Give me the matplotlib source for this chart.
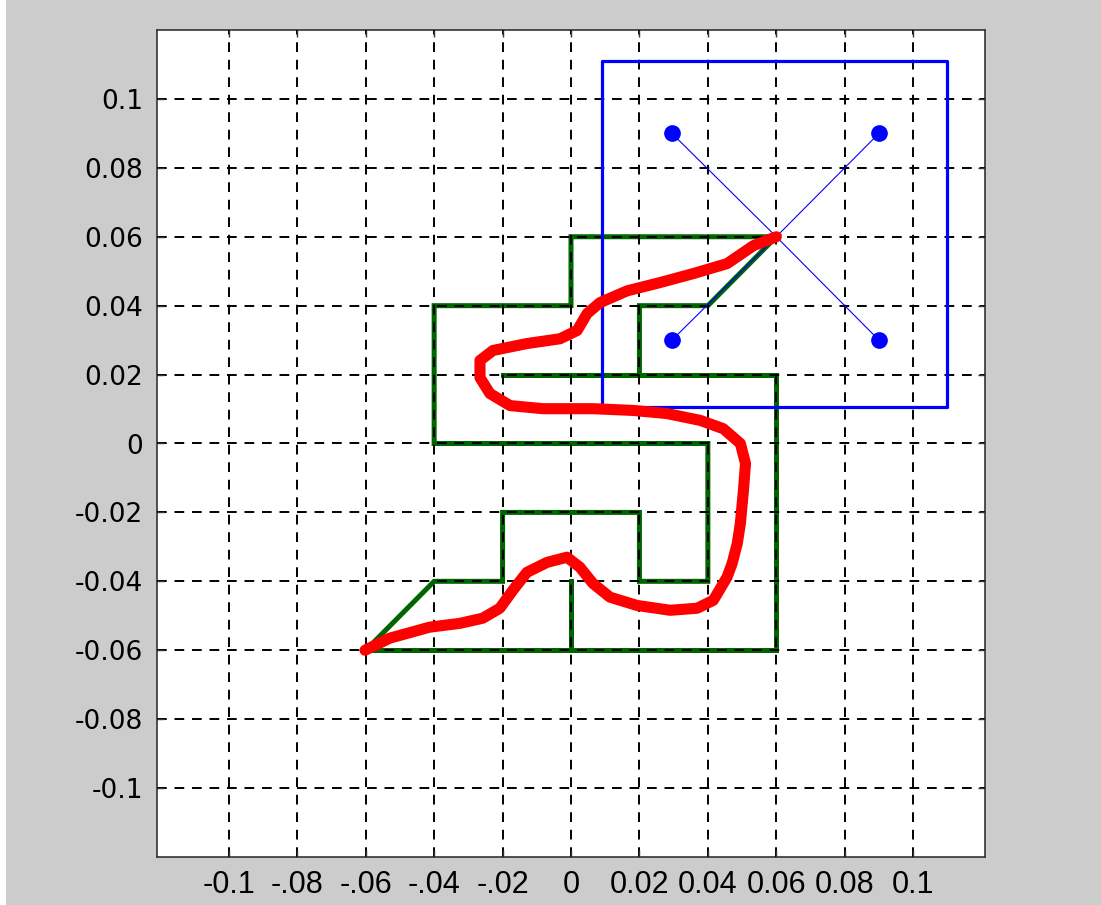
import matplotlib
matplotlib.use("Agg")
import matplotlib.pyplot as plt
from matplotlib.patches import Rectangle

# maze walls (green)
wall1_x = [-0.06, -0.04, -0.02, -0.02, 0.02, 0.02, 0.04, 0.04, -0.04, -0.04, 0.0, 0.0, 0.06, 0.04, 0.02, 0.02]
wall1_y = [-0.06, -0.04, -0.04, -0.02, -0.02, -0.04, -0.04, 0.0, 0.0, 0.04, 0.04, 0.06, 0.06, 0.04, 0.04, 0.02]
wall2_x = [-0.02, 0.06, 0.06, -0.06]
wall2_y = [0.02, 0.02, -0.06, -0.06]
wall3_x = [0.0, 0.0]
wall3_y = [-0.04, -0.06]

# robot frame (blue)
box_x = [0.009, 0.110, 0.110, 0.009, 0.009]
box_y = [0.0105, 0.0105, 0.111, 0.111, 0.0105]
center = (0.06, 0.06)
legs_x = [0.0295, 0.09, 0.0295, 0.09]
legs_y = [0.09, 0.09, 0.03, 0.03]

# path (red)
path_x = [-0.0602, -0.053, -0.0413, -0.0325, -0.0258, -0.0208, -0.017, -0.0129, -0.007,
          -0.0012, 0.0026, 0.0064, 0.0114, 0.0193, 0.029, 0.0369, 0.0416, 0.0456, 0.0471,
          0.0486, 0.0495, 0.0504, 0.051, 0.0495, 0.0445, 0.0378, 0.028, 0.0181, 0.0064,
          -0.0082, -0.0178, -0.0237, -0.0266, -0.0266, -0.0228, -0.0129, -0.0032, 0.0018,
          0.0047, 0.0085, 0.0164, 0.026, 0.0357, 0.0456, 0.0533, 0.0600]
path_y = [-0.0600, -0.0565, -0.0533, -0.0522, -0.0507, -0.0478, -0.0426, -0.0374, -0.0345,
          -0.033, -0.0359, -0.0406, -0.0446, -0.047, -0.0484, -0.0478, -0.0455, -0.0388, -0.0348,
          -0.029, -0.0232, -0.0136, -0.0058, 0.0, 0.0043, 0.0067, 0.0087, 0.0096, 0.0101,
          0.0101, 0.011, 0.0145, 0.0191, 0.0241, 0.027, 0.029, 0.0304, 0.0328,
          0.0377, 0.0409, 0.0443, 0.0467, 0.0493, 0.0522, 0.0574, 0.0600]

ticks = [-0.1, -0.08, -0.06, -0.04, -0.02, 0, 0.02, 0.04, 0.06, 0.08, 0.1]
xtick_labels = ['-0.1', '-.08', '-.06', '-.04', '-.02', '0', '0.02', '0.04', '0.06', '0.08', '0.1']
ytick_labels = ['-0.1', '-0.08', '-0.06', '-0.04', '-0.02', '0', '0.02', '0.04', '0.06', '0.08', '0.1']

fig = plt.figure(figsize=(11.01, 9.05), dpi=100, facecolor='#cccccc')
fig.patches.append(Rectangle((0, 0), 6 / 1101, 1, transform=fig.transFigure,
                             facecolor='white', edgecolor='none'))
ax = fig.add_axes([157 / 1101, 48 / 905, 828 / 1101, 827 / 905])
ax.set_facecolor('white')

green = '#006400'
for wx, wy in [(wall1_x, wall1_y), (wall2_x, wall2_y), (wall3_x, wall3_y)]:
    ax.plot(wx, wy, color=green, lw=3.6, zorder=2, solid_joinstyle='miter')

ax.plot(box_x, box_y, color='blue', lw=2.3, zorder=2.6)
for lx, ly in zip(legs_x, legs_y):
    ax.plot([center[0], lx], [center[1], ly], color='blue', lw=0.8, zorder=2.6)
ax.plot(legs_x, legs_y, 'o', color='blue', ms=11, zorder=2.7)

ax.plot(path_x, path_y, color='red', lw=8, solid_capstyle='round',
        solid_joinstyle='round', zorder=3)

ax.set_xlim(-0.121, 0.121)
ax.set_ylim(-0.12, 0.12)
ax.set_xticks(ticks)
ax.set_xticklabels(xtick_labels, fontsize=22, family='Liberation Sans')
ax.set_yticks(ticks)
ax.set_yticklabels(ytick_labels, fontsize=19, family='DejaVu Sans')
ax.tick_params(direction='in', length=5, width=1, top=True, right=True, color='#333333')
ax.tick_params(axis='x', pad=9)
ax.tick_params(axis='y', pad=10)
ax.grid(True, color='black', linestyle=(0, (5, 4)), linewidth=1.4, zorder=2.5)
ax.set_axisbelow(False)
for s in ax.spines.values():
    s.set_color('#333333')
    s.set_linewidth(1.2)

fig.savefig('out.png', dpi=100, facecolor=fig.get_facecolor())
